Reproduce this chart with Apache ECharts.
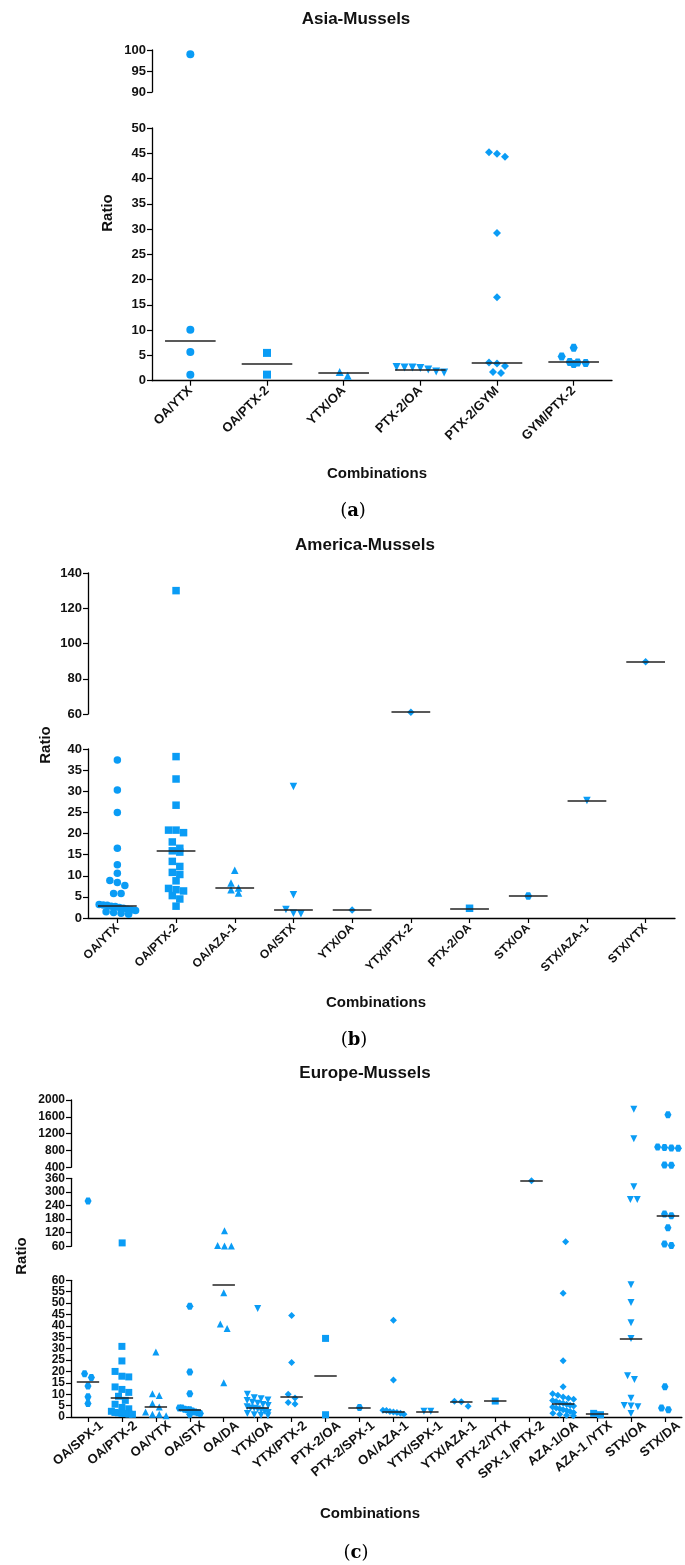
<!DOCTYPE html>
<html><head><meta charset="utf-8">
<script src="https://cdn.jsdelivr.net/npm/echarts@6/dist/echarts.min.js"></script>
<style>html,body{margin:0;padding:0;background:#fff}#c{width:685px;height:1565px}</style>
</head><body><div id="c"></div>
<script>
// ================= DATA =================
// (a) Asia-Mussels
const asiaCategories = ['OA/YTX','OA/PTX-2','YTX/OA','PTX-2/OA','PTX-2/GYM','GYM/PTX-2'];
const asiaValues = [
  [99, 10.1, 5.7, 1.2],
  [5.5, 1.2],
  [1.0, 1.7],
  [2.7, 2.6, 2.6, 2.5, 2.2, 1.8, 1.6],
  [45.2, 44.9, 44.3, 29.2, 16.5, 3.6, 3.4, 2.9, 1.7, 1.5],
  [6.5, 4.8, 3.7, 3.6, 3.5, 3.3]
];
const asiaMedians = [7.9, 3.4, 1.5, 2.2, 3.5, 3.7];
const asiaTicks = [[90, 100, 5], [0, 50, 5]];           // [min, max, step] per axis segment, top to bottom

// (b) America-Mussels
const americaCategories = ['OA/YTX','OA/PTX-2','OA/AZA-1','OA/STX','YTX/OA','YTX/PTX-2','PTX-2/OA','STX/OA','STX/AZA-1','STX/YTX'];
const americaValues = [
  [37.4, 30.3, 25.0, 16.5, 12.6, 10.6, 8.9, 8.4, 7.7, 5.8, 5.8, 3.2, 3.1, 3.0, 2.8, 2.7, 2.5, 2.3, 2.1, 1.9, 1.8, 1.5, 1.3, 1.1, 0.9],
  [130, 38.2, 32.9, 26.7, 20.8, 20.8, 20.2, 18.0, 16.5, 15.9, 15.6, 13.4, 12.2, 10.8, 10.3, 8.8, 7.0, 6.7, 6.4, 5.3, 4.5, 2.8],
  [11.3, 8.3, 7.1, 6.7, 5.9],
  [31.1, 5.5, 2.0, 1.1, 1.0],
  [1.9],
  [61],
  [2.3],
  [5.2],
  [27.8],
  [89.6]
];
const americaMedians = [3.0, 16.0, 7.1, 1.9, 1.9, 61, 2.3, 5.2, 27.8, 89.6];
const americaTicks = [[60, 140, 20], [0, 40, 5]];

// (c) Europe-Mussels
const europeCategories = ['OA/SPX-1','OA/PTX-2','OA/YTX','OA/STX','OA/DA','YTX/OA','YTX/PTX-2','PTX-2/OA','PTX-2/SPX-1','OA/AZA-1','YTX/SPX-1','YTX/AZA-1','PTX-2/YTX','SPX-1 /PTX-2','AZA-1/OA','AZA-1 /YTX','STX/OA','STX/DA'];
const europeValues = [
  [260, 19.0, 17.3, 13.6, 8.9, 5.9],
  [75, 31.0, 24.6, 20.0, 17.9, 17.6, 13.2, 12.1, 10.8, 9.1, 7.3, 5.6, 4.2, 3.6, 2.5, 2.0, 1.8, 1.6, 1.5, 1.3, 1.2],
  [28.5, 10.2, 9.4, 5.9, 4.4, 2.2, 1.2, 1.2, 0.6],
  [48.6, 19.8, 10.2, 4.0, 4.0, 3.4, 3.2, 3.2, 2.6, 2.2, 1.9, 1.5, 1.2],
  [129, 64, 61, 61, 54.5, 40.8, 38.8, 15.0],
  [47.6, 10.0, 8.5, 8.0, 7.5, 7.2, 6.5, 6.0, 5.5, 5.0, 4.5, 4.0, 3.8, 3.5, 3.0, 2.5, 2.0, 1.5, 1.0, 0.8, 0.5],
  [44.6, 23.9, 10.0, 8.3, 6.4, 5.7],
  [34.5, 1.0],
  [4.2],
  [42.5, 16.2, 3.0, 2.8, 2.4, 2.2, 2.0, 1.6, 1.2],
  [2.5, 2.5],
  [6.9, 6.7, 4.7],
  [7.0],
  [349],
  [80, 54.3, 24.7, 13.3, 10.2, 9.5, 8.8, 8.2, 7.8, 7.2, 6.8, 6.3, 6.0, 5.6, 5.2, 4.8, 4.4, 4.0, 3.6, 3.2, 2.8, 2.4, 2.0, 1.6, 1.2, 0.8, 0.5],
  [1.6, 1.0],
  [1780, 1078, 323, 267, 267, 58, 50.3, 41.4, 34.5, 18.1, 16.5, 8.2, 5.0, 4.8, 4.5, 1.5],
  [1650, 880, 870, 860, 850, 455, 450, 202, 195, 142, 70, 63, 13.3, 4.0, 3.2]
];
const europeMedians = [15.4, 8.5, 4.4, 3.2, 58.2, 4.0, 9.1, 18.0, 4.2, 2.2, 2.4, 6.6, 7.0, 349, 5.7, 1.3, 34.2, 195];
const europeTicks = [[400, 2000, 400], [60, 360, 60], [0, 60, 5]];

// ================= STYLE / LAYOUT =================
const FONT = '"Liberation Sans", Arial, sans-serif';
const BLUE = '#0A9CF5';
const SYM = {
  circle: 'circle', square: 'rect', triangle: 'triangle', diamond: 'diamond',
  down: 'path://M0,0L10,0L5,9Z',
  hexagon: 'path://M2.5,0L7.5,0L10,4.33L7.5,8.66L2.5,8.66L0,4.33Z'
};
const asiaSymbols = ['circle','square','triangle','down','diamond','hexagon'];
const americaSymbols = ['circle','square','triangle','down','diamond','diamond','square','hexagon','down','diamond'];
const europeSymbols = ['hexagon','square','triangle','hexagon','triangle','down','diamond','square','hexagon','diamond','down','diamond','square','diamond','diamond','square','down','hexagon'];

const panels = [
  {cats: asiaCategories, vals: asiaValues, meds: asiaMedians, ticks: asiaTicks, syms: asiaSymbols,
   left: 152, width: 460, segs: [[50, 42], [128, 252.7]], dia: 8, xFont: 13, yFont: 13, yLine: 13, xRotate: 45, xMargin: 8, labelShift: 0},
  {cats: americaCategories, vals: americaValues, meds: americaMedians, ticks: americaTicks, syms: americaSymbols,
   left: 88, width: 587, segs: [[573, 141], [749, 169]], dia: 7.5, xFont: 12, yFont: 13, yLine: 13, xRotate: 45, xMargin: 8, labelShift: 0},
  {cats: europeCategories, vals: europeValues, meds: europeMedians, ticks: europeTicks, syms: europeSymbols,
   left: 71, width: 625, segs: [[1100, 67.3], [1178.3, 68], [1280.3, 136.7]], dia: 7, xFont: 13, yFont: 12, yLine: 10, xRotate: 40, xMargin: 7, labelShift: 0.4}
];

const option = {animation: false, backgroundColor: '#fff', grid: [], xAxis: [], yAxis: [], series: [], graphic: []};

// row-based spreading (like a column scatter): points that overlap vertically are spread symmetrically
function swarmOffsets(vals, yPix, dia, catW) {
  const idx = vals.map((v, i) => i).sort((a, b) => yPix(vals[a]) - yPix(vals[b]));
  const offs = new Array(vals.length).fill(0);
  const maxSpan = catW * 0.62;
  let row = [], rowY = null;
  const flush = () => {
    const n = row.length;
    if (!n) return;
    const step = n > 1 ? Math.min(dia, maxSpan / (n - 1)) : 0;
    row.forEach((i, j) => { offs[i] = ((j - (n - 1) / 2) * step) / catW; });
  };
  for (const i of idx) {
    const y = yPix(vals[i]);
    if (rowY === null || y - rowY < dia * 0.85) { if (rowY === null) rowY = y; row.push(i); }
    else { flush(); row = [i]; rowY = y; }
  }
  flush();
  return offs;
}

function yAxisDef(P, s, gridIndex, vals, showLine) {
  return {
    type: 'value', gridIndex, min: s.min, max: s.max, interval: s.step, position: 'left', offset: 0,
    splitLine: {show: false},
    axisLine: {show: showLine, onZero: false, lineStyle: {color: '#000', width: 1.3}},
    axisTick: {show: true, customValues: vals, length: 5, lineStyle: {color: '#000', width: 1.2}},
    axisLabel: {customValues: vals, fontSize: P.yFont, fontWeight: 'bold', fontFamily: FONT, color: '#111', margin: 6,
      lineHeight: P.yLine, formatter: v => String(v), hideOverlap: false, showMinLabel: true, showMaxLabel: true}
  };
}

function buildPanel(P) {
  const N = P.cats.length, catW = P.width / N;
  const idxs = [...Array(N).keys()];
  const segs = P.ticks.map((t, k) => ({min: t[0], max: t[1], step: t[2], top: P.segs[k][0], h: P.segs[k][1]}));
  const segIndex = v => segs.findIndex(s => v >= s.min && v <= s.max);
  const yPix = v => { const s = segs[segIndex(v)]; return s.top + (s.max - v) / (s.max - s.min) * s.h; };
  const gBase = option.grid.length;
  const yIdx = [];
  segs.forEach((s, k) => {
    const last = k === segs.length - 1;
    const g = gBase + k;
    const even = [], odd = [];
    let n = 0;
    for (let v = s.min; v <= s.max + 1e-9; v += s.step, n++) (n % 2 ? odd : even).push(v);
    option.grid.push({left: P.left, width: P.width, top: s.top, height: s.h});
    option.xAxis.push({
      type: 'value', gridIndex: g, min: -0.5, max: N - 0.5, show: last,
      splitLine: {show: false},
      axisLine: {show: true, onZero: false, lineStyle: {color: '#000', width: 1.3}},
      axisTick: {show: true, customValues: idxs, length: 5, lineStyle: {color: '#000', width: 1.2}},
      axisLabel: {show: true, customValues: idxs.map(i => i + P.labelShift),
        formatter: v => P.cats[Math.round(v - P.labelShift)] || '',
        rotate: P.xRotate, fontSize: P.xFont, fontWeight: 'bold', fontFamily: FONT, color: '#111', margin: P.xMargin,
        hideOverlap: false}
    });
    yIdx.push(option.yAxis.length);
    // tick labels split over two coincident axes so neighbouring labels never get auto-hidden
    option.yAxis.push(yAxisDef(P, s, g, even, true));
    if (odd.length) option.yAxis.push(yAxisDef(P, s, g, odd, false));
  });
  P.vals.forEach((vals, i) => {
    const offs = swarmOffsets(vals, yPix, P.dia, catW);
    segs.forEach((s, k) => {
      const data = [];
      vals.forEach((v, j) => { if (segIndex(v) === k) data.push([i + offs[j], v]); });
      if (!data.length) return;
      option.series.push({
        type: 'scatter', xAxisIndex: gBase + k, yAxisIndex: yIdx[k], data,
        symbol: SYM[P.syms[i]], symbolSize: P.dia, clip: false, silent: true, z: 3,
        itemStyle: {color: BLUE, opacity: 1}
      });
    });
  });
  segs.forEach((s, k) => {
    const data = [];
    P.meds.forEach((m, i) => { if (segIndex(m) === k) data.push({coords: [[i - 0.33, m], [i + 0.33, m]]}); });
    if (!data.length) return;
    option.series.push({
      type: 'lines', coordinateSystem: 'cartesian2d', xAxisIndex: gBase + k, yAxisIndex: yIdx[k],
      data, silent: true, z: 4, lineStyle: {color: '#222', width: 1.5, opacity: 1}
    });
  });
}
panels.forEach(buildPanel);

function txt(x, y, text, size, opts) {
  opts = opts || {};
  option.graphic.push({
    type: 'text', x, y, rotation: opts.rot || 0, silent: true,
    style: Object.assign({text, fill: '#111', align: 'center', verticalAlign: 'middle',
      font: (opts.weight || 'bold') + ' ' + size + 'px ' + (opts.family || FONT)}, opts.style || {})
  });
}
function tag(x, y, letter) {
  option.graphic.push({
    type: 'text', x, y, silent: true,
    style: {text: '{n|(}{b|' + letter + '}{n|)}', align: 'center', verticalAlign: 'middle',
      rich: {
        n: {fontFamily: '"DejaVu Serif", serif', fontSize: 18, color: '#111'},
        b: {fontFamily: '"DejaVu Serif", serif', fontSize: 18, fontWeight: 'bold', color: '#111'}
      }}
  });
}
// titles
txt(356, 19, 'Asia-Mussels', 17);
txt(365, 545, 'America-Mussels', 17);
txt(365, 1073, 'Europe-Mussels', 17);
// axis names
txt(108, 213, 'Ratio', 15, {rot: Math.PI / 2});
txt(46, 745, 'Ratio', 15, {rot: Math.PI / 2});
txt(22, 1256, 'Ratio', 15, {rot: Math.PI / 2});
txt(377, 474, 'Combinations', 15);
txt(376, 1003, 'Combinations', 15);
txt(370, 1514, 'Combinations', 15);
// panel tags
tag(353, 511, 'a');
tag(354, 1040, 'b');
tag(356, 1553, 'c');

const chart = echarts.init(document.getElementById('c'), null, {renderer: 'canvas'});
chart.setOption(option);
</script>
</body></html>
